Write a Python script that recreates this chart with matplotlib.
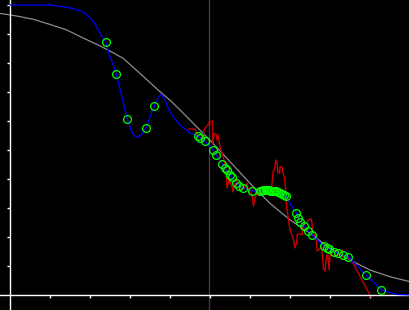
import matplotlib
matplotlib.use("Agg")
import matplotlib.pyplot as plt

# smooth reference curve (grey)
gray_x = [-0.25, 0.1675, 0.575, 1.0, 1.4175, 1.8325, 2.25, 2.5425, 2.83, 3.25, 3.75, 4.0,
          4.25, 5.0, 5.5, 6.0, 6.5, 7.0, 7.5, 8.0, 8.5, 9.0, 9.5, 10.0]
gray_y = [9.71, 9.62, 9.51, 9.33, 9.14, 8.86, 8.59, 8.38, 8.16, 7.64, 7.01, 6.72,
          6.38, 5.34, 4.60, 3.85, 3.16, 2.59, 2.13, 1.61, 1.21, 0.86, 0.63, 0.46]

# fitted curve (blue)
blue_x = [0.0, 1.0, 1.5, 1.825, 2.0825, 2.25, 2.3925, 2.50, 2.6575, 2.775, 2.9325,
          3.025, 3.10, 3.1925, 3.30, 3.4075, 3.50, 3.6075, 3.70, 3.775, 3.875, 3.95,
          4.05, 4.25, 4.50, 4.7075, 4.8675, 5.0675, 5.1575, 5.3075, 5.4125, 5.5175,
          5.65, 5.75, 5.8325, 6.0575, 6.25, 6.40, 6.55, 6.75, 6.90, 7.1575, 7.2625,
          7.355, 7.45, 7.555, 7.855, 7.975, 8.1925, 8.4575, 8.905, 9.2825, 9.6675, 10.0]
blue_y = [10.0, 10.0, 9.907, 9.769, 9.448, 9.034, 8.714, 8.241, 7.610, 6.966, 6.059,
          5.690, 5.500, 5.438, 5.552, 5.769, 6.138, 6.507, 6.793, 6.921, 6.724, 6.448,
          6.207, 5.862, 5.586, 5.459, 5.300, 5.017, 4.828, 4.517, 4.310, 4.103,
          3.862, 3.759, 3.679, 3.586, 3.586, 3.614, 3.597, 3.517, 3.403, 2.817, 2.534,
          2.390, 2.224, 2.069, 1.683, 1.569, 1.438, 1.321, 0.683, 0.183, 0.017, 0.0]

# noisy series (red)
red_x = [4.475, 4.625, 4.70, 4.825, 4.85, 4.90, 4.95, 4.975, 5.0625, 5.075, 5.10, 5.15,
         5.175, 5.20, 5.25, 5.30, 5.35, 5.40, 5.425, 5.475, 5.55, 5.575, 5.65, 5.75,
         5.825, 5.925, 5.95, 6.05, 6.0875, 6.125, 6.175, 6.2125, 6.30, 6.45, 6.5375,
         6.575, 6.6125, 6.65, 6.675, 6.70, 6.7375, 6.75, 6.80, 6.825, 6.8625, 6.8875,
         6.9125, 6.9625, 7.0, 7.075, 7.125, 7.1625, 7.1875, 7.25, 7.30, 7.3375, 7.4125,
         7.4625, 7.5375, 7.5675, 7.65, 7.6825, 7.7075, 7.7925, 7.8325, 7.875, 7.9175,
         7.95, 7.975, 8.0, 8.25, 8.3075, 8.3325, 8.4575, 8.55, 9.025]
red_y = [5.724, 5.724, 5.448, 5.414, 5.690, 5.793, 5.862, 5.966, 6.0, 5.241, 5.552, 5.552,
         5.345, 5.517, 5.103, 4.897, 4.655, 4.379, 3.690, 3.966, 3.724, 3.552, 3.966, 3.759,
         3.621, 3.862, 3.690, 3.448, 3.069, 3.345, 3.517, 3.621, 3.586, 3.586, 3.621,
         4.241, 4.345, 4.655, 4.552, 4.207, 4.207, 4.414, 4.414, 4.207, 4.034, 3.690,
         3.069, 2.586, 2.241, 2.0, 1.621, 1.793, 2.103, 2.103, 2.069, 2.414, 2.483,
         2.586, 2.621, 2.207, 1.966, 1.517, 1.552, 1.655, 0.931, 0.828, 1.379,
         1.379, 0.862, 1.379, 1.379, 1.552, 1.276, 1.276, 1.172, -0.069]

# observations (green circles)
pts_x = [2.3925, 2.6575, 2.9325, 3.4075, 3.6075, 4.6925, 4.75, 4.8675, 5.0675, 5.1575,
         5.3125, 5.375, 5.4175, 5.5125, 5.55, 5.6575, 5.7375, 5.8325, 6.0575,
         6.25, 6.2875, 6.325, 6.3625, 6.40, 6.4375, 6.475, 6.5125, 6.55, 6.60, 6.65,
         6.70, 6.75, 6.80, 6.85, 6.90,
         7.1575, 7.2125, 7.2625, 7.355, 7.45, 7.555, 7.855, 7.9175, 7.975, 8.10,
         8.1925, 8.3175, 8.4575, 8.905, 9.2825]
pts_y = [8.714, 7.610, 6.059, 5.769, 6.507, 5.472, 5.414, 5.300, 5.017, 4.828,
         4.517, 4.369, 4.310, 4.121, 4.052, 3.862, 3.759, 3.679, 3.586,
         3.586, 3.597, 3.607, 3.610, 3.614, 3.614, 3.610, 3.603, 3.597, 3.586, 3.569,
         3.545, 3.517, 3.483, 3.448, 3.403,
         2.817, 2.672, 2.534, 2.390, 2.224, 2.069, 1.683, 1.621, 1.569, 1.483,
         1.438, 1.386, 1.321, 0.683, 0.183]

vline_x = 4.98
x_ticks = [1, 2, 3, 4, 5, 6, 7, 8, 9]
y_ticks = [1, 2, 3, 4, 5, 6, 7, 8, 9, 10]

fig = plt.figure(figsize=(4.1, 3.1), dpi=100, facecolor="black")
ax = fig.add_axes([0, 0, 1, 1])
ax.set_facecolor("black")
ax.set_xlim(-0.25, 10.0)
ax.set_ylim(-15 / 29, 295 / 29)

ax.axvline(vline_x, color="#5e2a6e", lw=0.9, zorder=1)
ax.plot(gray_x, gray_y, color="#8c8c8c", lw=0.9, zorder=2)
ax.plot(red_x, red_y, color="#c80000", lw=1.0, zorder=3)
ax.plot(blue_x, blue_y, color="#0000ff", lw=0.9, zorder=4)
ax.plot(pts_x, pts_y, linestyle="none", marker="o", markersize=5.6,
        markerfacecolor="none", markeredgecolor="#00ff00", markeredgewidth=0.9, zorder=5)

for side in ("top", "right"):
    ax.spines[side].set_visible(False)
ax.spines["left"].set_position(("data", 0))
ax.spines["bottom"].set_position(("data", 0))
for side in ("left", "bottom"):
    ax.spines[side].set_color("white")
    ax.spines[side].set_linewidth(1.0)
    ax.spines[side].set_zorder(3.5)

ax.set_xticks(x_ticks)
ax.set_yticks(y_ticks)
ax.set_xticklabels([])
ax.set_yticklabels([])
ax.tick_params(direction="out", length=2.2, width=1.0, color="white")

fig.savefig("out.png", dpi=100, facecolor="black")
